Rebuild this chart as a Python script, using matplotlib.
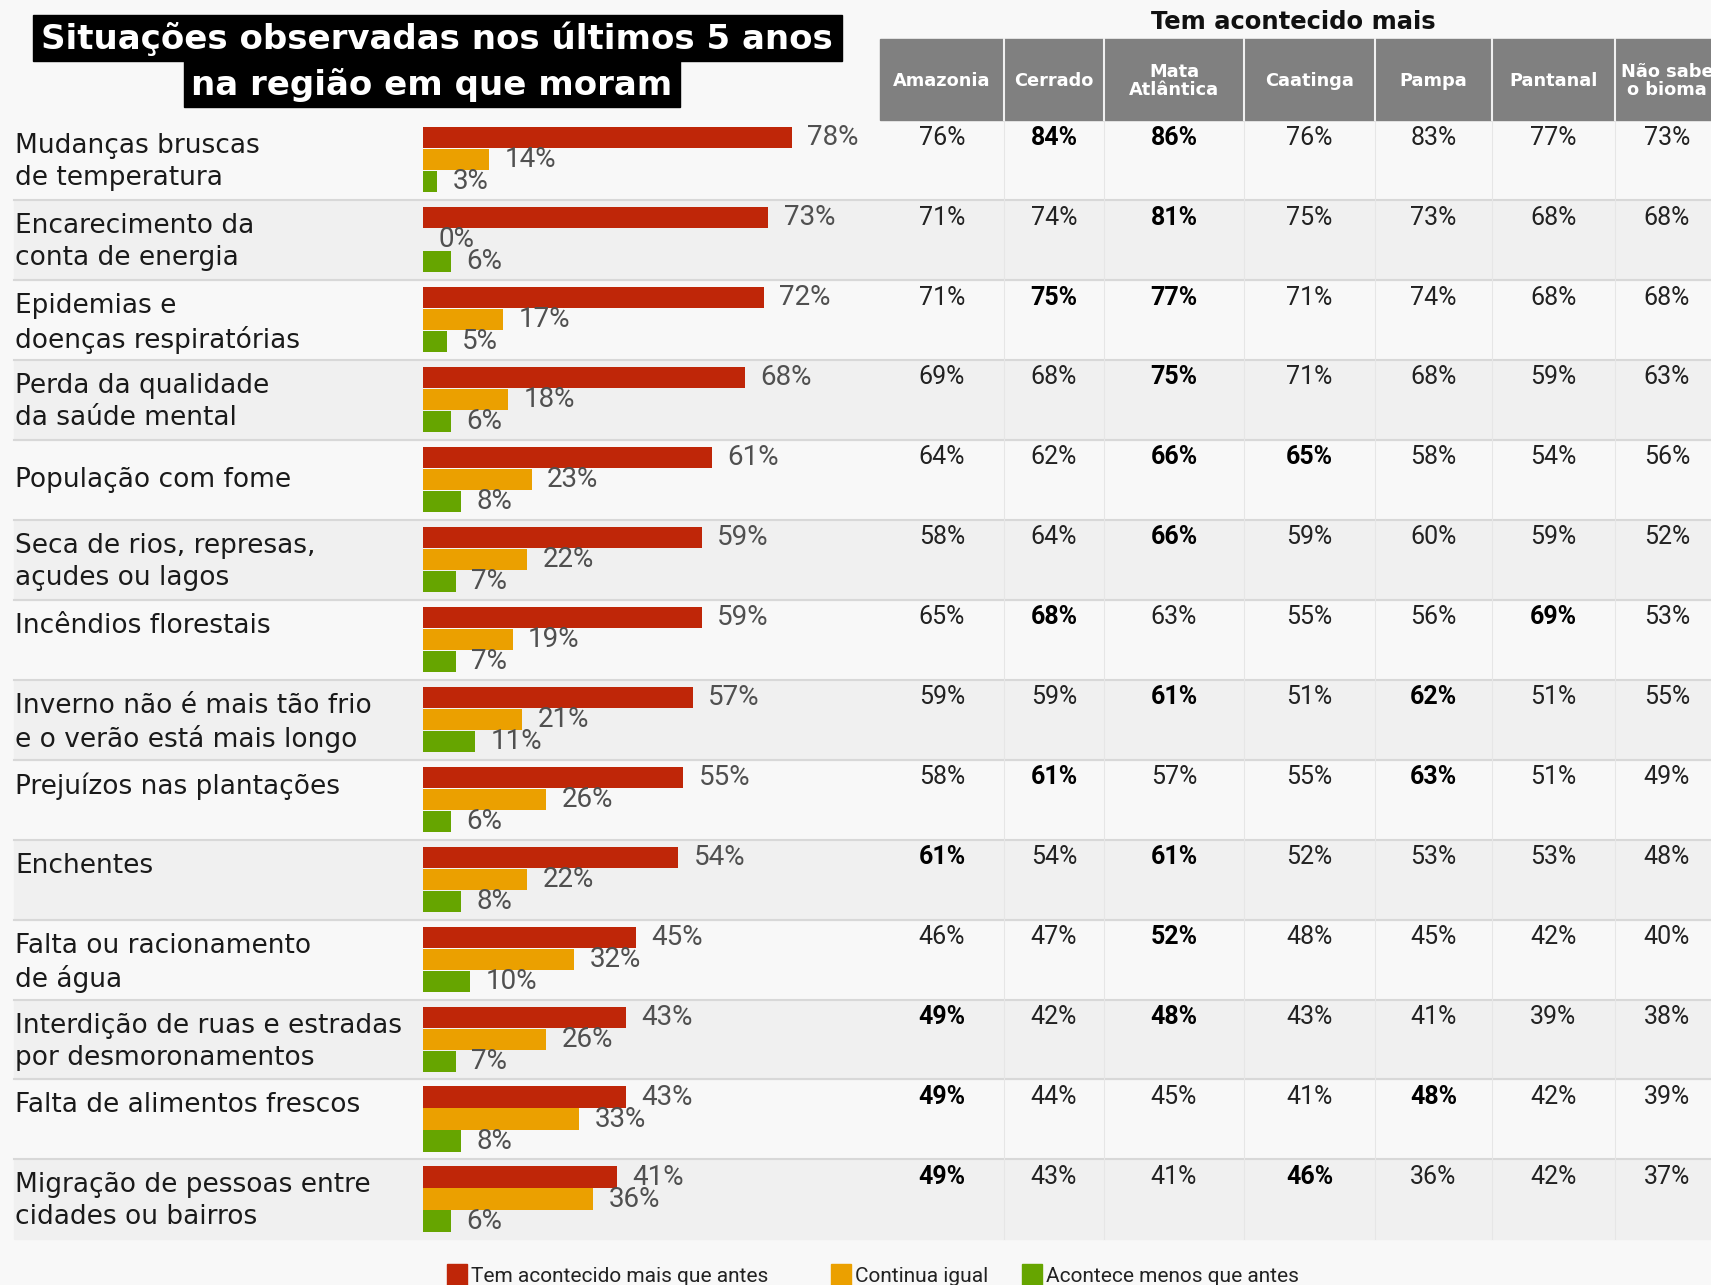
import matplotlib.pyplot as plt
import numpy as np
from matplotlib.patches import Rectangle

# Dados
situacoes = ['Mudanças bruscas\nde temperatura', 'Encarecimento da\nconta de energia',
             'Epidemias e\ndoenças respiratórias', 'Perda da qualidade\nda saúde mental',
             'População com fome', 'Seca de rios, represas,\naçudes ou lagos',
             'Incêndios florestais', 'Inverno não é mais tão frio\ne o verão está mais longo',
             'Prejuízos nas plantações', 'Enchentes', 'Falta ou racionamento\nde água',
             'Interdição de ruas e estradas\npor desmoronamentos', 'Falta de alimentos frescos',
             'Migração de pessoas entre\ncidades ou bairros']
mais = [78, 73, 72, 68, 61, 59, 59, 57, 55, 54, 45, 43, 43, 41]
igual = [14, 0, 17, 18, 23, 22, 19, 21, 26, 22, 32, 26, 33, 36]
menos = [3, 6, 5, 6, 8, 7, 7, 11, 6, 8, 10, 7, 8, 6]

biomas = ['Amazonia', 'Cerrado', 'Mata\nAtlântica', 'Caatinga', 'Pampa', 'Pantanal', 'Não sabe\no bioma']
amazonia = [76, 71, 71, 69, 64, 58, 65, 59, 58, 61, 46, 49, 49, 49]
cerrado = [84, 74, 75, 68, 62, 64, 68, 59, 61, 54, 47, 42, 44, 43]
mata_atlantica = [86, 81, 77, 75, 66, 66, 63, 61, 57, 61, 52, 48, 45, 41]
caatinga = [76, 75, 71, 71, 65, 59, 55, 51, 55, 52, 48, 43, 41, 46]
pampa = [83, 73, 74, 68, 58, 60, 56, 62, 63, 53, 45, 41, 48, 36]
pantanal = [77, 68, 68, 59, 54, 59, 69, 51, 51, 53, 42, 39, 42, 42]
nao_sabe = [73, 68, 68, 63, 56, 52, 53, 55, 49, 48, 40, 38, 39, 37]
# colunas em negrito em cada linha
destaques = [[1, 2], [2], [1, 2], [2], [2, 3], [2], [1, 5], [2, 4], [1, 4], [0, 2], [2], [0, 2], [0, 4], [0, 3]]

legenda = ['Tem acontecido mais que antes', 'Continua igual', 'Acontece menos que antes']

vermelho, laranja, verde = '#bf2608', '#eba000', '#66a500'
W, H = 1711, 1285
topo, fundo = 120, 1239.4
n = len(situacoes)
rh = (fundo - topo) / n

fig = plt.figure(figsize=(W / 100, H / 100), dpi=100, facecolor='#f8f8f8')
ax = fig.add_axes([0, 0, 1, 1])
ax.set_xlim(0, W)
ax.set_ylim(H, 0)
ax.axis('off')

# Título
ax.add_patch(Rectangle((33, 15), 809, 46, color='black'))
ax.add_patch(Rectangle((184, 61), 496, 46, color='black'))
ax.text(437, 39, 'Situações observadas nos últimos 5 anos', color='white', fontsize=24.5,
        fontweight='bold', ha='center', va='center')
ax.text(432, 85, 'na região em que moram', color='white', fontsize=24.5,
        fontweight='bold', ha='center', va='center')

# Cabeçalho da tabela
bordas = [880, 1004, 1104, 1244, 1375, 1492, 1615, 1719]
ax.text(1293, 22, 'Tem acontecido mais', fontsize=17.5, fontweight='bold',
        ha='center', va='center', color='#111111')
ax.add_patch(Rectangle((880, 39), W - 880, 81, color='#808080'))
for b in bordas[1:-1]:
    ax.plot([b, b], [39, 120], color='#f0f0f0', lw=1.5)
for j, nome in enumerate(biomas):
    ax.text((bordas[j] + bordas[j + 1]) / 2, 81, nome, color='white', fontsize=12.8,
            fontweight='bold', ha='center', va='center', linespacing=1.05)

# Linhas de fundo
for i in range(n):
    y0 = topo + i * rh
    if i % 2 == 1:
        ax.add_patch(Rectangle((14, y0), W - 14, rh, color='#f0f0f0', zorder=0))
    if i > 0:
        ax.plot([14, W], [y0, y0], color='#d8d8d8', lw=1.5, zorder=1)
for b in bordas[1:-1]:
    ax.plot([b, b], [topo, fundo], color='#e6e6e6', lw=0.8, zorder=1)

# Rótulos das situações e tabela
tabela = [amazonia, cerrado, mata_atlantica, caatinga, pampa, pantanal, nao_sabe]
for i, s in enumerate(situacoes):
    y0 = topo + i * rh
    if s == 'População com fome':
        ax.text(15, y0 + rh / 2, s, fontsize=19, color='#1a1a1a', va='center', linespacing=1.3)
    else:
        ax.text(15, y0 + 13, s, fontsize=19, color='#1a1a1a', va='top', linespacing=1.3)
    for j, col in enumerate(tabela):
        negrito = j in destaques[i]
        ax.text((bordas[j] + bordas[j + 1]) / 2, y0 + 0.22 * rh, f'{col[i]}%', fontsize=18,
                family='Roboto', fontweight='bold' if negrito else 'normal',
                color='black' if negrito else '#222222', ha='center', va='center')

# Barras
bx = fig.add_axes([423 / W, 1 - fundo / H, 473 / W, (fundo - topo) / H])
bx.set_xlim(0, 100)
bx.set_ylim(n, 0)
bx.axis('off')
bx.patch.set_alpha(0)
pos = np.arange(n)
for serie, cor, desl in [(mais, vermelho, 0.22), (igual, laranja, 0.495), (menos, verde, 0.77)]:
    barras = bx.barh(pos + desl, serie, height=0.265, color=cor)
    bx.bar_label(barras, labels=[f'{v}%' for v in serie], padding=11, fontsize=20,
                 family='Roboto', color='#505050', clip_on=False)

# Legenda
for x, cor, txt in [(447, vermelho, legenda[0]), (831, laranja, legenda[1]), (1022, verde, legenda[2])]:
    ax.add_patch(Rectangle((x, 1264), 20, 22, color=cor))
    ax.text(x + 24, 1276, txt, fontsize=15, family='Roboto',
            color='#222222', va='center')

fig.savefig('out.png', dpi=100, facecolor=fig.get_facecolor())
